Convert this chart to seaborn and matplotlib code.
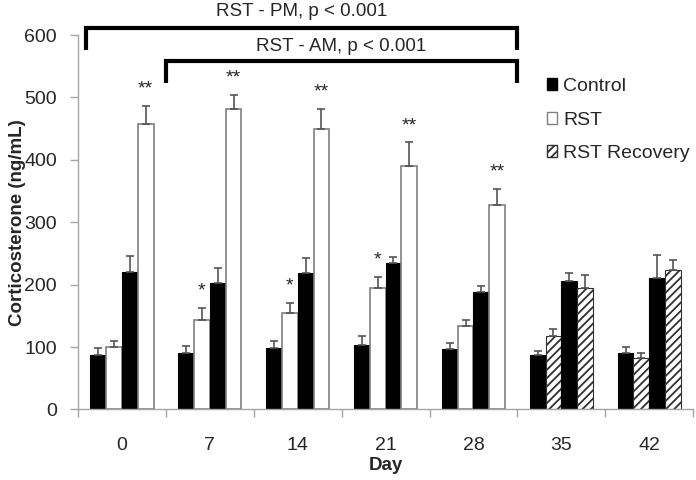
import numpy as np
import pandas as pd
import matplotlib
matplotlib.use("Agg")
import matplotlib.pyplot as plt
import seaborn as sns
from matplotlib.patches import Patch

# data (ng/mL, mean and upper SEM)
days = ["0", "7", "14", "21", "28", "35", "42"]
slots = ["Control AM", "RST AM", "Control PM", "RST PM"]
control_am = [88, 91, 99, 103, 97, 87, 90]
rst_am = [100, 144, 155, 195, 134, 118, 82]
control_pm = [220, 203, 218, 235, 189, 206, 211]
rst_pm = [458, 481, 449, 390, 327, 195, 223]
control_am_err = [10, 11, 11, 14, 10, 7, 10]
rst_am_err = [10, 19, 16, 18, 10, 11, 9]
control_pm_err = [26, 24, 25, 10, 9, 12, 36]
rst_pm_err = [28, 23, 32, 38, 27, 21, 16]
recovery_days = ["35", "42"]
single_star = {"RST AM": ["7", "14", "21"]}
double_star = {"RST PM": ["0", "7", "14", "21", "28"]}

values = [control_am, rst_am, control_pm, rst_pm]
errors = [control_am_err, rst_am_err, control_pm_err, rst_pm_err]
rows = []
for s, vals, errs in zip(slots, values, errors):
    for d, v, e in zip(days, vals, errs):
        rows.append({"Day": d, "slot": s, "value": v, "err": e})
df = pd.DataFrame(rows)

sns.set_theme(style="white")
plt.rcParams["font.family"] = ["Liberation Sans", "DejaVu Sans"]
plt.rcParams["hatch.linewidth"] = 1.3
fs = 14

fig = plt.figure(figsize=(6.96, 4.8), dpi=100)
ax = fig.add_axes([0.112, 0.147, 0.884, 0.78])

palette = {"Control AM": "black", "RST AM": "white", "Control PM": "black", "RST PM": "white"}
sns.barplot(data=df, x="Day", y="value", hue="slot", order=days, hue_order=slots,
            palette=palette, errorbar=None, width=0.72, legend=False, ax=ax,
            saturation=1)

grey = "#7f7f7f"
for s, cont in zip(slots, ax.containers):
    errs = df[df.slot == s].set_index("Day").loc[days, "err"].values
    for d, bar, e in zip(days, cont, errs):
        if s.startswith("RST"):
            bar.set_edgecolor(grey)
            bar.set_linewidth(1.2)
            if d in recovery_days:
                bar.set_hatch("////")
                bar.set_edgecolor("#303030")
                bar.set_linewidth(0.8)
        else:
            bar.set_edgecolor("black")
            bar.set_linewidth(0.8)
        xc = bar.get_x() + bar.get_width() / 2
        top = bar.get_height()
        ax.errorbar([xc], [top], yerr=[[0], [e]], fmt="none", ecolor="#555555",
                    elinewidth=1.2, capsize=3, capthick=1.2, zorder=1)
        stars = ""
        if d in single_star.get(s, []):
            stars = "*"
        if d in double_star.get(s, []):
            stars = "**"
        if stars:
            ax.annotate(stars, (xc, top + e), xytext=(0, 6), textcoords="offset points",
                        ha="center", va="bottom", fontsize=14)

# significance brackets
def bracket(x0, x1, y, drop, label, ty):
    ax.plot([x0, x0, x1, x1], [y - drop, y, y, y - drop], color="black", lw=3,
            clip_on=False, solid_joinstyle="miter", solid_capstyle="butt")
    ax.text((x0 + x1) / 2, ty, label, ha="center", va="center", fontsize=13.5)

bracket(-0.41, 4.49, 611, 35, "RST - PM, p < 0.001", 638)
bracket(0.5, 4.49, 558, 35, "RST - AM, p < 0.001", 581)

ax.set_ylim(0, 600)
ax.set_xlim(-0.5, len(days) - 0.5)
ax.set_yticks(range(0, 601, 100))
ax.set_xticks(np.arange(-0.5, len(days), 1.0), minor=True)
ax.tick_params(axis="x", which="major", length=0, pad=20, labelsize=fs)
ax.tick_params(axis="x", which="minor", length=6, color="#a6a6a6", width=1, direction="out")
ax.tick_params(axis="y", length=6, color="#a6a6a6", width=1, direction="out", pad=9, labelsize=fs)
ax.xaxis.set_ticks_position("bottom")
ax.yaxis.set_ticks_position("left")

for side in ["top", "right"]:
    ax.spines[side].set_visible(False)
for side in ["left", "bottom"]:
    ax.spines[side].set_color("#a6a6a6")
    ax.spines[side].set_linewidth(1)

ax.set_xlabel("Day", fontsize=13.5, fontweight="bold", labelpad=2)
ax.set_ylabel("Corticosterone (ng/mL)", fontsize=13.5, fontweight="bold")
ax.yaxis.set_label_coords(-0.085, 0.5)

handles = [
    Patch(facecolor="black", edgecolor="black", label="Control"),
    Patch(facecolor="white", edgecolor=grey, label="RST"),
    Patch(facecolor="white", edgecolor="#303030", hatch="////", label="RST Recovery"),
]
ax.legend(handles=handles, loc="upper left", bbox_to_anchor=(0.762, 0.885), frameon=False,
          fontsize=fs, handlelength=0.55, handleheight=0.55, handletextpad=0.3,
          labelspacing=0.85, borderpad=0, borderaxespad=0)

fig.savefig("out.png", dpi=100)
